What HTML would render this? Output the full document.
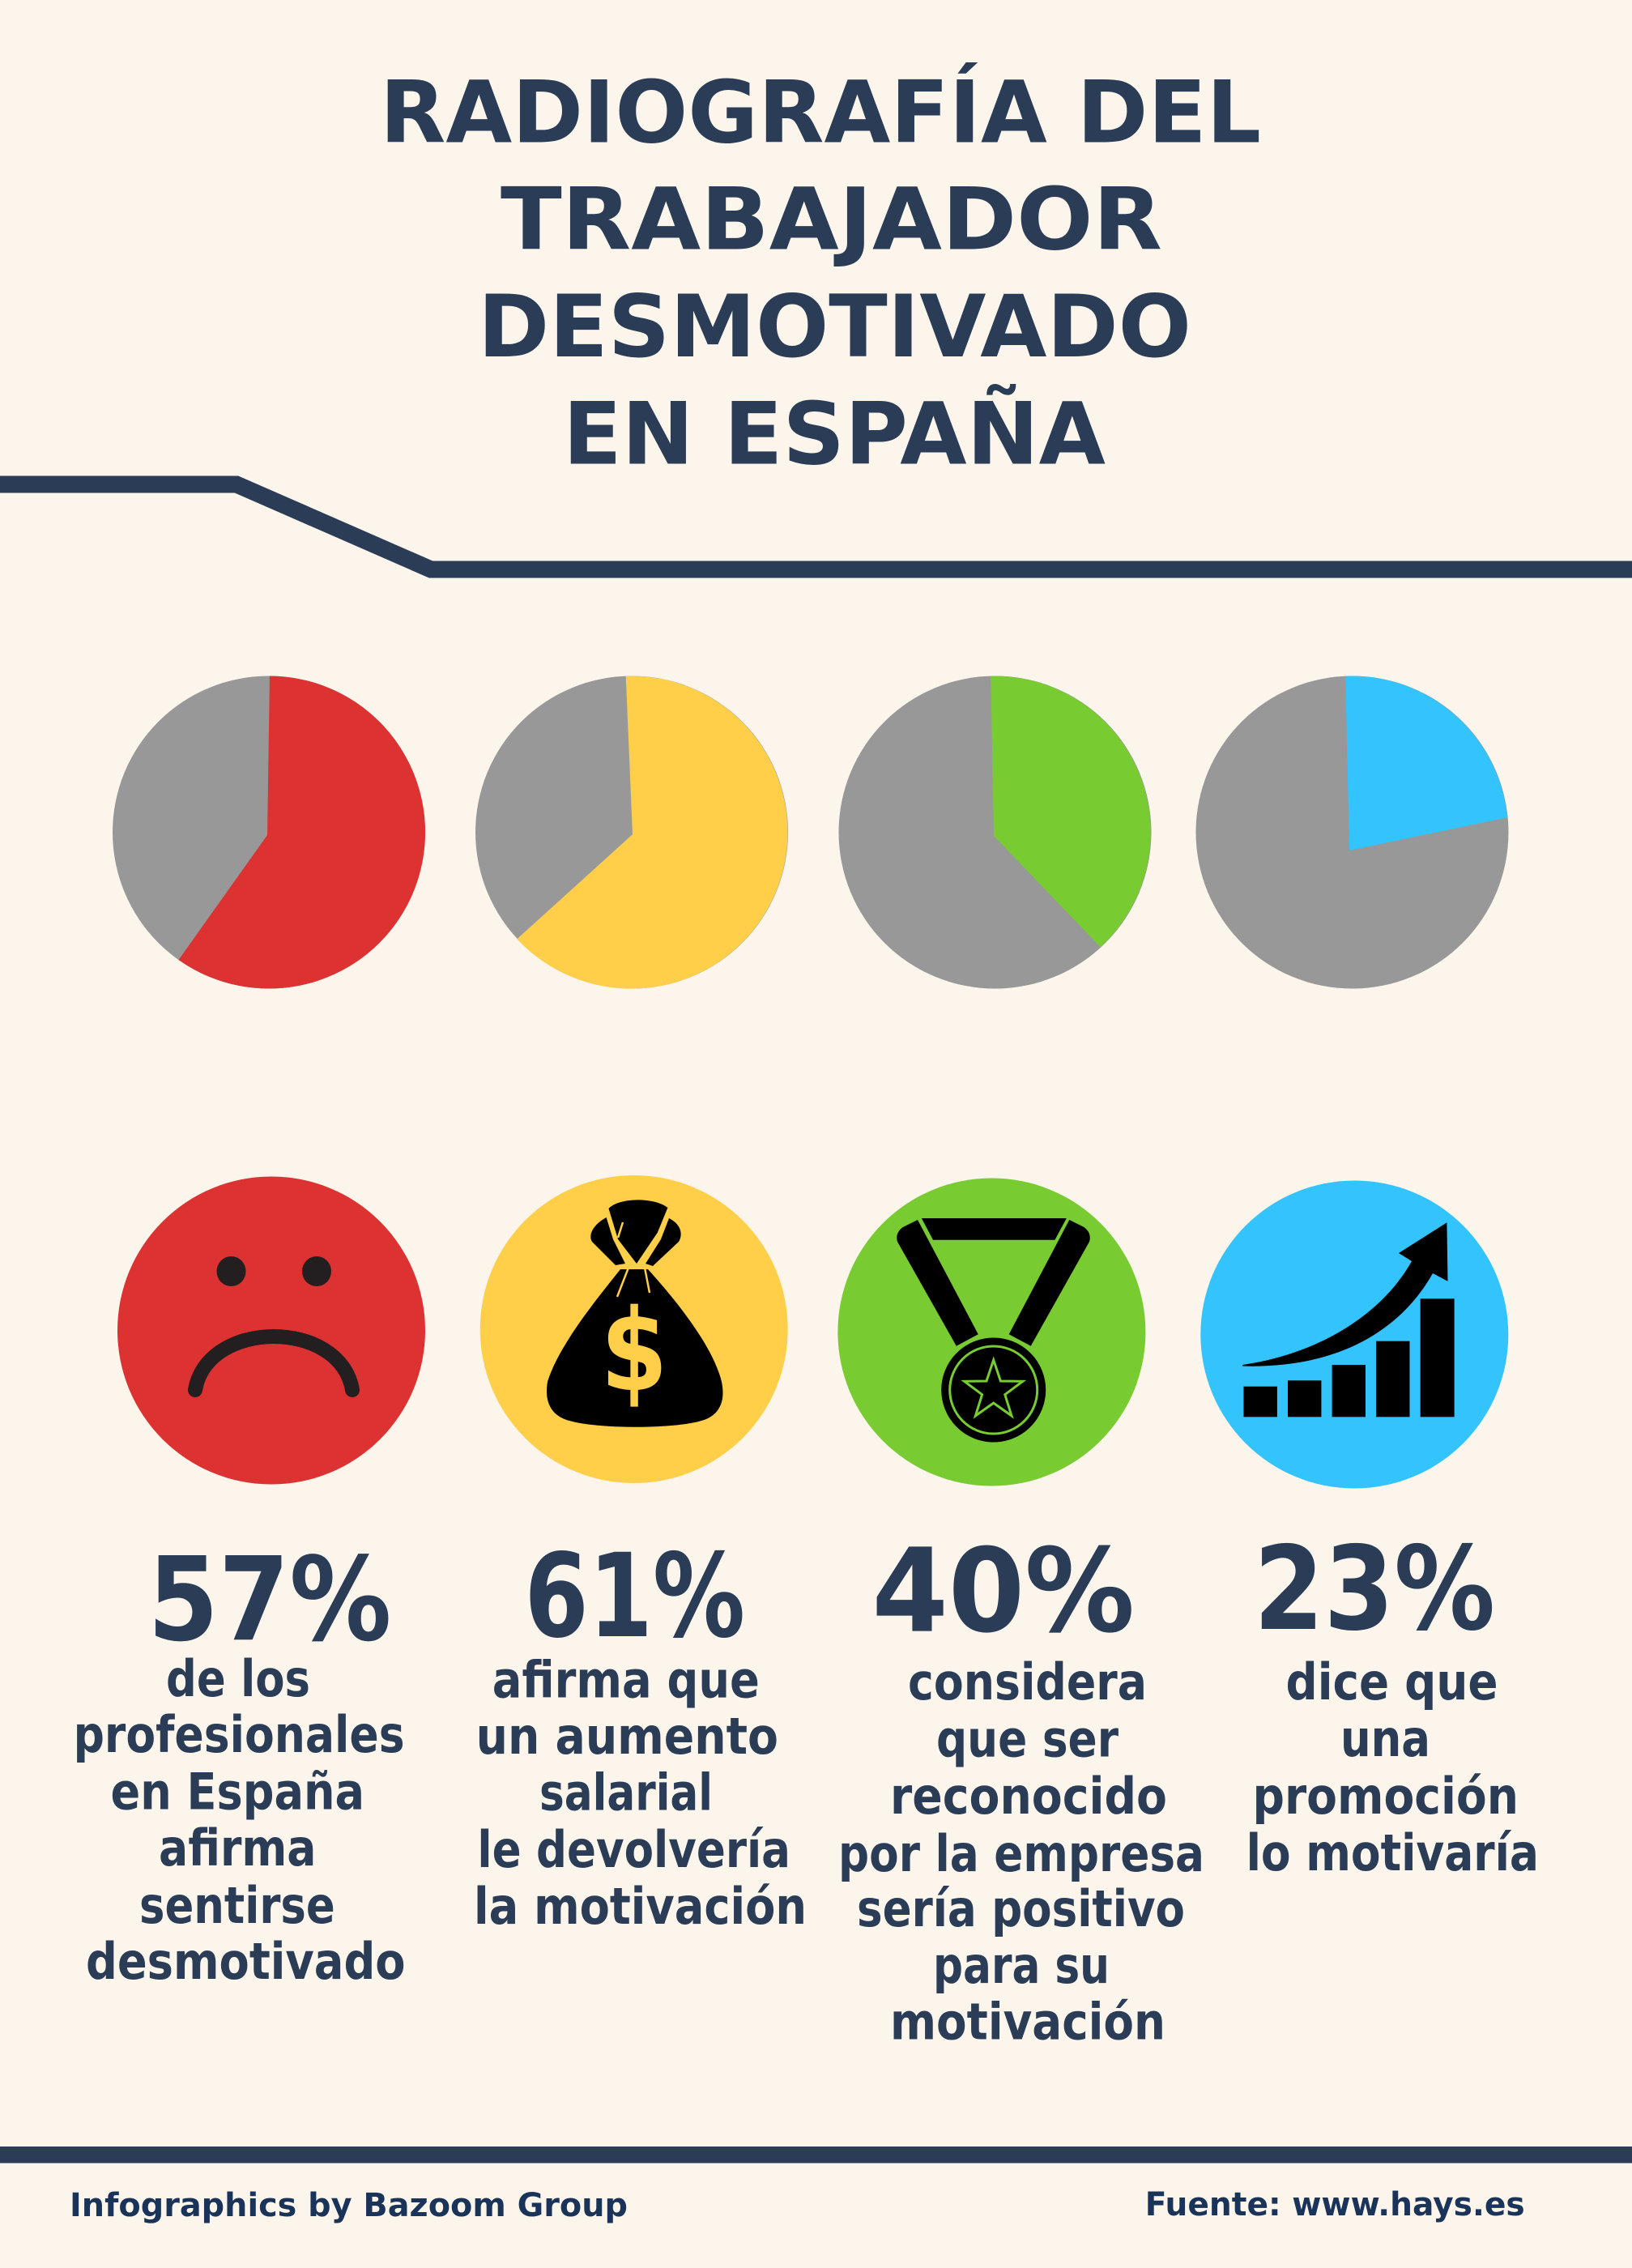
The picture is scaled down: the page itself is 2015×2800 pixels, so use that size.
<!DOCTYPE html>
<html>
<head>
<meta charset="utf-8">
<style>
html,body{margin:0;padding:0;background:#fcf5ec;}
svg{display:block;}
.t{font-family:"DejaVu Sans","Liberation Sans",sans-serif;font-weight:bold;fill:#2a3c56;}
</style>
</head>
<body>
<svg width="2015" height="2800" viewBox="0 0 2015 2800" xmlns="http://www.w3.org/2000/svg">
<rect x="0" y="0" width="2015" height="2800" fill="#fcf5ec"/>

<!-- Title -->
<g class="t" style="font-size:106px">
<text x="469" y="175.5" textLength="1088" lengthAdjust="spacingAndGlyphs">RADIOGRAFÍA DEL</text>
<text x="618" y="307.5" textLength="817" lengthAdjust="spacingAndGlyphs">TRABAJADOR</text>
<text x="590" y="440" textLength="881" lengthAdjust="spacingAndGlyphs">DESMOTIVADO</text>
<text x="695" y="572.5" textLength="670" lengthAdjust="spacingAndGlyphs">EN ESPAÑA</text>
</g>

<!-- Divider -->
<path d="M0,598 L292,598 L532,703 L2015,703" fill="none" stroke="#2a3c56" stroke-width="21" stroke-linejoin="miter"/>

<!-- Pies -->
<circle cx="332" cy="1027.5" r="193" fill="#989898"/>
<path d="M330,1031 L333,834.5 A193,193 0 1,1 220.5,1185 Z" fill="#dd3232"/>

<circle cx="780" cy="1027.5" r="193" fill="#989898"/>
<path d="M781,1030 L772.7,834.7 A193,193 0 1,1 638.4,1159.3 Z" fill="#ffcf4a"/>

<circle cx="1228.5" cy="1027.5" r="193" fill="#989898"/>
<path d="M1227,1032 L1223.3,834.6 A193,193 0 0,1 1358.7,1169.3 Z" fill="#78cc32"/>

<circle cx="1669.5" cy="1027.5" r="193" fill="#989898"/>
<path d="M1666,1050 L1661.2,834.7 A193,193 0 0,1 1861,1009.3 Z" fill="#33c3fd"/>

<!-- Icon 1: sad face -->
<circle cx="335" cy="1642.5" r="190" fill="#dd3232"/>
<ellipse cx="285.5" cy="1569.5" rx="18" ry="18.5" fill="#231f20"/>
<ellipse cx="391" cy="1569.5" rx="18" ry="18.5" fill="#231f20"/>
<path d="M241,1716 C256,1628 420,1628 435,1716" fill="none" stroke="#231f20" stroke-width="18" stroke-linecap="round"/>

<!-- Icon 2: money bag -->
<circle cx="782.7" cy="1641" r="190" fill="#ffcf4a"/>
<g fill="#000">
  <!-- top knot center -->
  <path d="M751.5,1492 C765,1478 808,1478 824.4,1491 L811.8,1521.7 L786,1560 L763,1530 Z"/>
  <!-- left flap -->
  <path d="M748.6,1503 C732,1512 726,1525 731,1533 L760,1562 L772,1560 L757,1530 Z"/>
  <!-- right flap -->
  <path d="M826,1504 C842,1512 843,1525 838,1533 L806,1563 L797,1560 L816,1530 Z"/>
  <!-- body -->
  <path d="M766,1567 L800,1567 C830,1600 880,1660 891,1706 C896,1730 888,1745 872,1752 C840,1765 730,1765 697,1752 C680,1745 672,1730 676,1706 C690,1660 740,1600 766,1567 Z"/>
</g>
<g stroke="#ffcf4a" stroke-width="2.5" fill="none">
  <path d="M762,1566 C775,1560 795,1560 808,1566"/>
  <path d="M776,1565 L762,1601"/>
  <path d="M796,1565 L802,1596"/>
  <path d="M769,1509 L763,1528"/>
</g>
<text x="783" y="1716" text-anchor="middle" font-family="DejaVu Sans, Liberation Sans, sans-serif" font-weight="bold" font-size="140" fill="#ffcf4a" transform="translate(783,0) scale(0.85,1) translate(-783,0)">$</text>

<!-- Icon 3: medal -->
<circle cx="1224.4" cy="1644.5" r="190" fill="#78cc32"/>
<g fill="#000">
  <path d="M1137.8,1504 L1316.8,1504 L1302.5,1530.7 L1152,1530.7 Z"/>
  <path d="M1133,1506 L1114.8,1515 C1108,1520 1106,1526 1108,1533 L1180.8,1661.7 L1207.8,1647.3 Z"/>
  <path d="M1320.3,1506 L1338.5,1515 C1345,1520 1347,1526 1345,1533 L1272.7,1661.7 L1245.7,1647.3 Z"/>
</g>
<circle cx="1226.7" cy="1716" r="66" fill="#000" stroke="#78cc32" stroke-width="3"/>
<circle cx="1226.7" cy="1716" r="54" fill="none" stroke="#78cc32" stroke-width="3"/>
<polygon points="1226.7,1679 1235.4,1705 1262.8,1705.3 1240.8,1721.7 1249,1747.9 1226.7,1732.1 1204.4,1747.9 1212.6,1721.7 1190.6,1705.3 1218,1705" fill="#000" stroke="#78cc32" stroke-width="3" stroke-linejoin="miter"/>

<!-- Icon 4: growth chart -->
<circle cx="1672.3" cy="1647.5" r="190" fill="#33c3fd"/>
<g fill="#000">
  <rect x="1535.5" y="1711.7" width="41.4" height="37.6"/>
  <rect x="1590" y="1704.3" width="41.4" height="45"/>
  <rect x="1644.6" y="1685" width="41.4" height="64.3"/>
  <rect x="1699" y="1655.7" width="41.5" height="93.6"/>
  <rect x="1753.7" y="1603.3" width="41.9" height="146"/>
  <path d="M1534,1685 C1625,1672 1705,1625 1743,1557 L1727,1547 L1786.4,1509.3 L1787.5,1581.7 L1769,1572 C1728,1645 1648,1690 1534,1686.5 Z"/>
</g>

<!-- Percentages -->
<g class="t" style="font-size:143px">
<text x="182.4" y="2024.3" textLength="301" lengthAdjust="spacingAndGlyphs">57%</text>
<text x="647.5" y="2020" textLength="272.5" lengthAdjust="spacingAndGlyphs">61%</text>
<text x="1076.5" y="2013.6" textLength="324.5" lengthAdjust="spacingAndGlyphs">40%</text>
<text x="1548" y="2011" textLength="298" lengthAdjust="spacingAndGlyphs">23%</text>
</g>

<!-- Body text -->
<g class="t" style="font-size:62px">
<text x="205" y="2094" textLength="178" lengthAdjust="spacingAndGlyphs">de los</text>
<text x="90.6" y="2163" textLength="409" lengthAdjust="spacingAndGlyphs">profesionales</text>
<text x="136.5" y="2233.4" textLength="313.5" lengthAdjust="spacingAndGlyphs">en España</text>
<text x="196" y="2303" textLength="194.5" lengthAdjust="spacingAndGlyphs">afirma</text>
<text x="172" y="2374" textLength="241.7" lengthAdjust="spacingAndGlyphs">sentirse</text>
<text x="106" y="2443" textLength="394.6" lengthAdjust="spacingAndGlyphs">desmotivado</text>

<text x="607.8" y="2095.7" textLength="330" lengthAdjust="spacingAndGlyphs">afirma que</text>
<text x="587.6" y="2165" textLength="373.4" lengthAdjust="spacingAndGlyphs">un aumento</text>
<text x="666" y="2234.5" textLength="214" lengthAdjust="spacingAndGlyphs">salarial</text>
<text x="589.4" y="2304.8" textLength="386.6" lengthAdjust="spacingAndGlyphs">le devolvería</text>
<text x="585" y="2375" textLength="411" lengthAdjust="spacingAndGlyphs">la motivación</text>

<text x="1121" y="2098" textLength="295" lengthAdjust="spacingAndGlyphs">considera</text>
<text x="1156" y="2168.4" textLength="225" lengthAdjust="spacingAndGlyphs">que ser</text>
<text x="1099" y="2239" textLength="342" lengthAdjust="spacingAndGlyphs">reconocido</text>
<text x="1035" y="2310" textLength="452" lengthAdjust="spacingAndGlyphs">por la empresa</text>
<text x="1058" y="2378" textLength="405" lengthAdjust="spacingAndGlyphs">sería positivo</text>
<text x="1152" y="2448" textLength="218" lengthAdjust="spacingAndGlyphs">para su</text>
<text x="1099" y="2517.5" textLength="340" lengthAdjust="spacingAndGlyphs">motivación</text>

<text x="1587.5" y="2098" textLength="262" lengthAdjust="spacingAndGlyphs">dice que</text>
<text x="1655" y="2168" textLength="111" lengthAdjust="spacingAndGlyphs">una</text>
<text x="1546.5" y="2239" textLength="328.5" lengthAdjust="spacingAndGlyphs">promoción</text>
<text x="1538.6" y="2309" textLength="361.4" lengthAdjust="spacingAndGlyphs">lo motivaría</text>
</g>

<!-- Footer -->
<rect x="0" y="2650" width="2015" height="20.5" fill="#2a3c56"/>
<g font-family="DejaVu Sans, Liberation Sans, sans-serif" font-weight="bold" font-size="40" fill="#1a3359">
<text x="86" y="2736" textLength="689" lengthAdjust="spacingAndGlyphs">Infographics by Bazoom Group</text>
<text x="1413.7" y="2735" textLength="469" lengthAdjust="spacingAndGlyphs">Fuente: www.hays.es</text>
</g>
</svg>
</body>
</html>
